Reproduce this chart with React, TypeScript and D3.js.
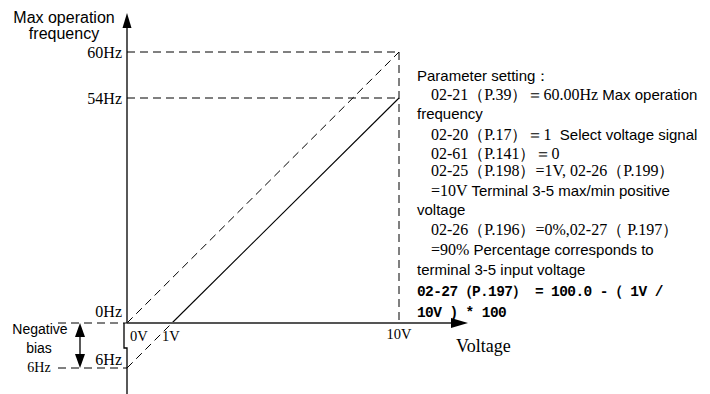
import React from 'react';
import * as d3 from 'd3';

// ---- data ----
const voltageTicks = [0, 1, 10];
const voltageLabels = ['0V', '1V', '10V'];
const freqLevels = [-6, 0, 54, 60];
const freqLabels = ['6Hz', '0Hz', '54Hz', '60Hz'];
const maxLine = [{ v: 0, f: 0 }, { v: 10, f: 60 }];
const biasDashed = [{ v: 0, f: -6 }, { v: 1, f: 0 }];
const biasSolid = [{ v: 1, f: 0 }, { v: 10, f: 54 }];
const yTitle = ['Max operation', 'frequency'];
const xTitle = 'Voltage';
const biasTitle = ['Negative', 'bias'];

type Part = { t: string; f: 'serif' | 'sans' | 'mono' };
const noteLines: { indent: boolean; parts: Part[] }[] = [
  { indent: false, parts: [{ t: 'Parameter setting：', f: 'sans' }] },
  { indent: true, parts: [{ t: '02-21（P.39）＝60.00Hz', f: 'serif' }, { t: ' Max operation', f: 'sans' }] },
  { indent: false, parts: [{ t: 'frequency', f: 'sans' }] },
  { indent: true, parts: [{ t: '02-20（P.17）＝1', f: 'serif' }, { t: '  Select voltage signal', f: 'sans' }] },
  { indent: true, parts: [{ t: '02-61（P.141）＝0', f: 'serif' }] },
  { indent: true, parts: [{ t: '02-25（P.198）=1V, 02-26（P.199）', f: 'serif' }] },
  { indent: true, parts: [{ t: '=10V', f: 'serif' }, { t: ' Terminal 3-5 max/min positive', f: 'sans' }] },
  { indent: false, parts: [{ t: 'voltage', f: 'sans' }] },
  { indent: true, parts: [{ t: '02-26（P.196）=0%,02-27（ P.197）', f: 'serif' }] },
  { indent: true, parts: [{ t: '=90%', f: 'serif' }, { t: ' Percentage corresponds to', f: 'sans' }] },
  { indent: false, parts: [{ t: 'terminal 3-5 input voltage', f: 'sans' }] },
  { indent: false, parts: [{ t: '02-27（P.197） = 100.0 -（ 1V /', f: 'mono' }] },
  { indent: false, parts: [{ t: '10V ) * 100', f: 'mono' }] },
];
const noteBaselines = [81, 100, 119, 140, 159, 176, 196, 215, 235, 255, 275, 296, 317];

const SERIF = '"Liberation Serif", "Times New Roman", serif';
const SANS = '"Liberation Sans", Arial, sans-serif';
const MONO = '"Liberation Mono", "Courier New", monospace';

export default function App() {
  const W = 710, H = 394;
  const x = d3.scaleLinear().domain(voltageTicks).range([127, 172, 399]);
  const y = d3.scaleLinear().domain(freqLevels).range([368, 323, 98, 52]);
  const line = d3.line<{ v: number; f: number }>().x(d => x(d.v)).y(d => y(d.f));

  const x0 = x(0), y0 = y(0);
  const xEnd = 468, yTop = 13;
  const dash = '8,5';

  const fam = (f: string) => (f === 'serif' ? SERIF : f === 'sans' ? SANS : MONO);
  const size = (f: string) => (f === 'serif' ? 16 : f === 'sans' ? 15 : 14.5);

  const yNeg = y(-6);
  const arrowX = 80;

  return (
    <svg width={W} height={H} style={{ position: 'absolute', left: 0, top: 0, background: '#fff' }}>
      <rect width={W} height={H} fill="#fff" />
      {/* dashed guides */}
      <g stroke="#000" strokeWidth={1} strokeDasharray={dash} fill="none">
        {[60, 54].map(f => (
          <line key={f} x1={x0} x2={x(10)} y1={y(f)} y2={y(f)} />
        ))}
        <line x1={x(10)} x2={x(10)} y1={y(60)} y2={y0} />
        <path d={line(maxLine) || ''} />
        <path d={line(biasDashed) || ''} />
        {[0, -6].map(f => (
          <line key={f} x1={58} x2={x0} y1={y(f)} y2={y(f)} />
        ))}
      </g>
      {/* solid bias line */}
      <path d={line(biasSolid) || ''} stroke="#000" strokeWidth={1.1} fill="none" />

      {/* x axis */}
      <line x1={x0} x2={xEnd - 14} y1={y0} y2={y0} stroke="#555" strokeWidth={2} />
      <polygon points={`${xEnd},${y0} ${xEnd - 17},${y0 - 5} ${xEnd - 17},${y0 + 5}`} fill="#000" />
      {/* y axis */}
      <path d={`M${x0},${yTop + 12} V${y0} M${x0 - 3},${y0} V${y0 + 25} H${x0} V${H}`} stroke="#000" strokeWidth={1.3} fill="none" />
      <polygon points={`${x0},${yTop} ${x0 - 4.5},${yTop + 15} ${x0 + 4.5},${yTop + 15}`} fill="#000" />

      {/* double arrow for negative bias */}
      <line x1={arrowX} x2={arrowX} y1={y0 + 10} y2={yNeg - 10} stroke="#000" strokeWidth={1.3} />
      <polygon points={`${arrowX},${y0} ${arrowX - 5},${y0 + 14} ${arrowX + 5},${y0 + 14}`} fill="#000" />
      <polygon points={`${arrowX},${yNeg} ${arrowX - 5},${yNeg - 14} ${arrowX + 5},${yNeg - 14}`} fill="#000" />

      {/* y tick labels */}
      <g fontFamily={SERIF} fontSize={16} fill="#000" textAnchor="end">
        {freqLevels.map((f, i) => (
          <text key={f} x={122} y={f === 0 ? y(f) - 6 : f === -6 ? y(f) - 3 : y(f) + 5.5}>
            {freqLabels[i]}
          </text>
        ))}
      </g>
      <text x={39} y={yNeg + 4} fontFamily={SERIF} fontSize={14} textAnchor="middle">{freqLabels[0]}</text>

      {/* x tick labels */}
      <g fontFamily={SERIF} fontSize={14.5} fill="#000">
        <text x={x(0) + 3} y={y0 + 18}>{voltageLabels[0]}</text>
        <text x={x(1) - 10} y={y0 + 18}>{voltageLabels[1]}</text>
        <text x={x(10)} y={y0 + 16} textAnchor="middle">{voltageLabels[2]}</text>
      </g>

      {/* axis titles */}
      <g fontFamily={SANS} fontSize={16} textAnchor="middle">
        <text x={64} y={23}>{yTitle[0]}</text>
        <text x={64} y={39}>{yTitle[1]}</text>
      </g>
      <text x={456} y={y0 + 29} fontFamily={SERIF} fontSize={18}>{xTitle}</text>
      <g fontFamily={SANS} fontSize={14} textAnchor="middle">
        <text x={40} y={y0 + 11}>{biasTitle[0]}</text>
        <text x={39} y={y0 + 30}>{biasTitle[1]}</text>
      </g>

      {/* notes */}
      <g fill="#000">
        {noteLines.map((ln, i) => (
          <text key={i} x={ln.indent ? 431 : 417} y={noteBaselines[i]} xmlSpace="preserve" style={{ whiteSpace: 'pre' }}>
            {ln.parts.map((p, j) => (
              <tspan
                key={j}
                fontFamily={fam(p.f)}
                fontSize={size(p.f)}
                fontWeight={p.f === 'mono' ? 'bold' : 'normal'}
                letterSpacing={p.f === 'mono' ? -0.6 : 0}
              >
                {p.t}
              </tspan>
            ))}
          </text>
        ))}
      </g>
    </svg>
  );
}
